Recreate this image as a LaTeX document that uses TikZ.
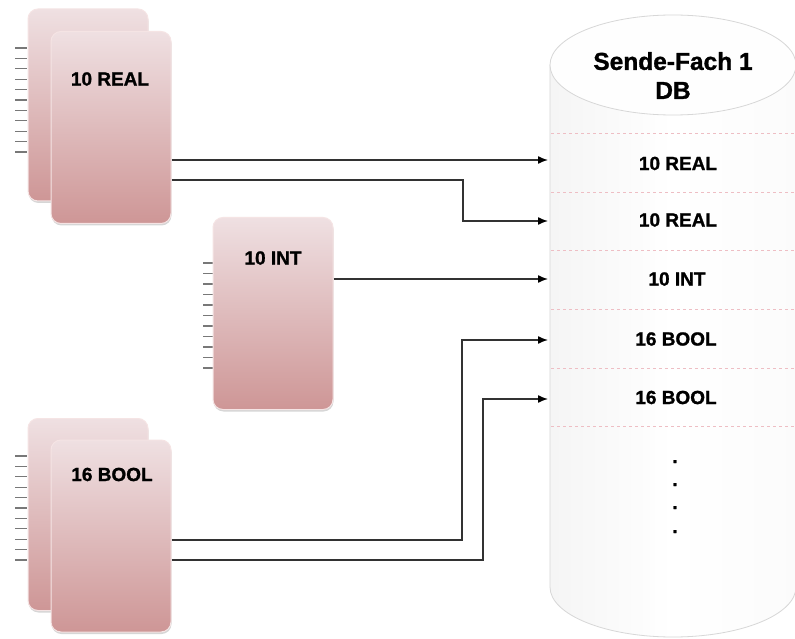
\documentclass[tikz,border=0pt]{standalone}
\usepackage{fontspec}
\setmainfont{Liberation Sans}[BoldFeatures={FakeBold=1.2}]
\usetikzlibrary{arrows.meta,shadows}
\definecolor{cardtop}{RGB}{239,224,226}
\definecolor{cardbot}{RGB}{206,150,150}
\definecolor{cardedge}{RGB}{245,228,228}
\definecolor{lineclr}{RGB}{50,50,50}
\definecolor{dashclr}{RGB}{238,190,196}
\definecolor{cylborder}{RGB}{215,215,215}
\definecolor{tickclr}{RGB}{120,120,120}
\tikzset{
  card/.style={rectangle, rounded corners=10pt, minimum width=120pt, minimum height=192pt,
    top color=cardtop, bottom color=cardbot, draw=cardedge, line width=1pt,
    drop shadow={shadow xshift=0.5pt, shadow yshift=-2pt, opacity=0.35, fill=black!45}},
  lbl/.style={font=\fontsize{19}{22}\selectfont\bfseries, text=black, inner sep=0pt},
  ttl/.style={font=\fontsize{24.5}{29}\selectfont\bfseries, text=black, inner sep=0pt, align=center},
  tickln/.style={draw=tickclr, line width=1.3pt},
  conn/.style={draw=lineclr, line width=1.4pt, -{Latex[length=10pt,width=8pt,color=black]}},
  rowsep/.style={draw=dashclr, dash pattern=on 3pt off 3pt, line width=0.7pt},
}
\begin{document}
\begin{tikzpicture}[x=1pt,y=-1pt]
\useasboundingbox (0,0) rectangle (795,639);
\fill[white] (0,0) rectangle (795,639);

% database cylinder
\path[left color=gray!8, right color=gray!3, middle color=white, draw=cylborder, line width=0.8pt]
  (550,65) -- (550,587) arc[start angle=180, end angle=0, x radius=123, y radius=50] -- (796,65) -- cycle;
\path[fill=gray!1, draw=cylborder, line width=0.8pt] (673,65) ellipse[x radius=123, y radius=50];
\node[ttl] (title) at (673,75.5) {Sende-Fach 1\\DB};
\foreach \yy in {133,192,250,309,368,426} \draw[rowsep] (551,\yy) -- (796,\yy);
\node[lbl] (db1) at (678,163.5) {10 REAL};
\node[lbl] (db2) at (678,220) {10 REAL};
\node[lbl] (db3) at (677,279) {10 INT};
\node[lbl] (db4) at (676,339) {16 BOOL};
\node[lbl] (db5) at (676,397.5) {16 BOOL};
\foreach \yy/\nm in {463/d1,486/d2,509/d3,533/d4}
  \node[lbl, anchor=base] (\nm) at (675,\yy) {.};

% ticks
\foreach \k in {0,...,10} {
  \draw[tickln] (15,{48+10.4*\k}) -- (27,{48+10.4*\k});
  \draw[tickln] (203,{263+10.5*\k}) -- (213,{263+10.5*\k});
  \draw[tickln] (15,{456+10.4*\k}) -- (27,{456+10.4*\k});
}

% cards
\node[card] (rb) at (88,105) {};
\node[card] (rf) at (111,127.5) {};
\node[lbl] (rlab) at (110,79) {10 REAL};
\node[card] (it) at (273,313.5) {};
\node[lbl] (ilab) at (273,258) {10 INT};
\node[card] (bb) at (88,514.5) {};
\node[card] (bf) at (111,536) {};
\node[lbl] (blab) at (112,474.5) {16 BOOL};

% connector ends
\coordinate (in1) at (548,160);
\coordinate (in2) at (548,221);
\coordinate (in3) at (548,279);
\coordinate (in4) at (548,340);
\coordinate (in5) at (548,399);
\coordinate (j2) at (463,180);
\coordinate (j4) at (462,540);
\coordinate (j5) at (483,560);

\draw[conn] (rf.east |- in1) -- (in1);
\draw[conn] (rf.east |- j2) -- (j2) |- (in2);
\draw[conn] (it.east |- in3) -- (in3);
\draw[conn] (bf.east |- j4) -- (j4) |- (in4);
\draw[conn] (bf.east |- j5) -- (j5) |- (in5);
\end{tikzpicture}
\end{document}
